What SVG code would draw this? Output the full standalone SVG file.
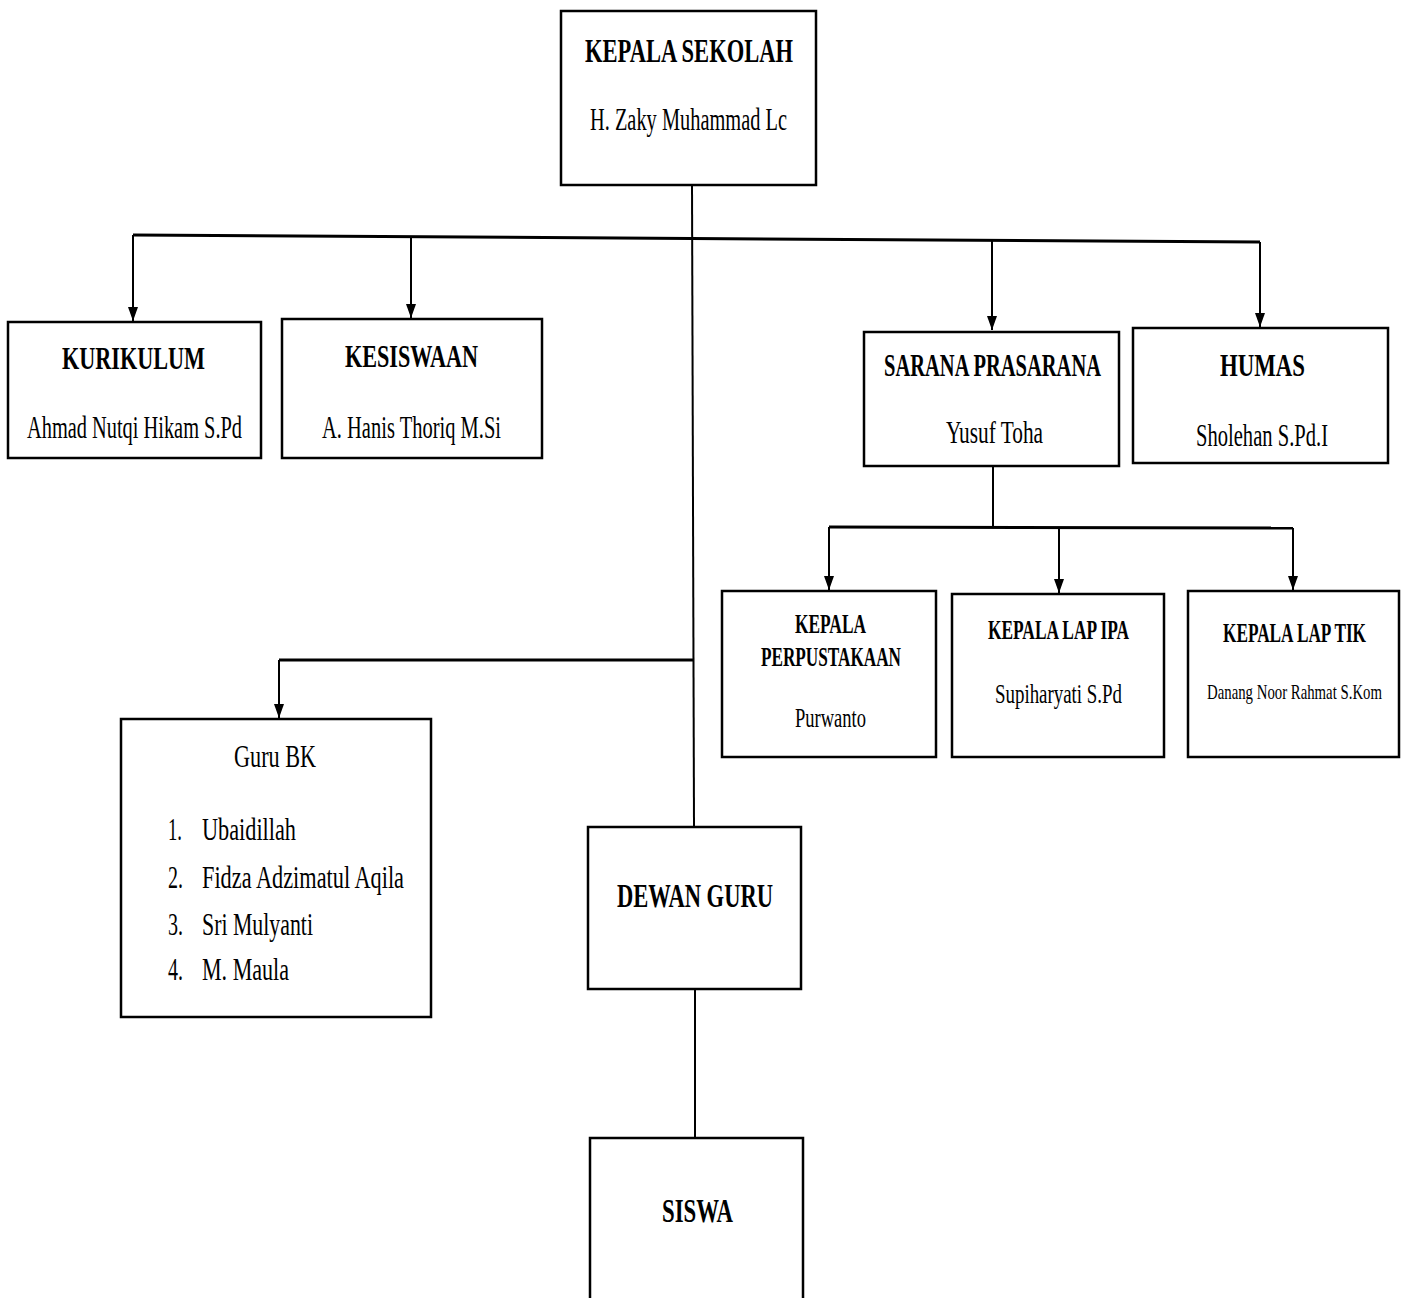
<svg xmlns="http://www.w3.org/2000/svg" width="1405" height="1298" viewBox="0 0 1405 1298">
<style>
.box{fill:#fff;stroke:#000;stroke-width:2.5}
text{font-family:"Liberation Serif","DejaVu Serif",serif;fill:#000}
.b{font-weight:bold}
.ln{fill:none;stroke:#000;stroke-width:2}
.bar{fill:none;stroke:#000;stroke-width:3}
</style>
<defs>
<marker id="ah" markerWidth="14" markerHeight="10" refX="14" refY="5" orient="auto" markerUnits="userSpaceOnUse" viewBox="0 0 14 10">
<path d="M0,0 L14,5 L0,10 Z" fill="#000"/>
</marker>
</defs>
<rect width="1405" height="1298" fill="#fff"/>
<g id="connectors">
<path class="ln" d="M692,184 L694,827"/>
<path class="bar" d="M133,235 L1260,242"/>
<path class="ln" d="M133,235 L133,321" marker-end="url(#ah)"/>
<path class="ln" d="M411,237 L411,318" marker-end="url(#ah)"/>
<path class="ln" d="M992,240 L992,330" marker-end="url(#ah)"/>
<path class="ln" d="M1260,242 L1260,327" marker-end="url(#ah)"/>
<path class="ln" d="M993,466 L993,527"/>
<path class="bar" d="M829,527 L1293,528"/>
<path class="ln" d="M829,527 L829,590" marker-end="url(#ah)"/>
<path class="ln" d="M1059,528 L1059,593" marker-end="url(#ah)"/>
<path class="ln" d="M1293,528 L1293,590" marker-end="url(#ah)"/>
<path class="bar" d="M279,660 L693,660"/>
<path class="ln" d="M279,660 L279,718" marker-end="url(#ah)"/>
<path class="ln" d="M695,989 L695,1138"/>
</g>
<g id="kepala-sekolah">
<rect class="box" x="561" y="11" width="255" height="174"/>
<text class="b" x="585" y="62" font-size="34" textLength="208" lengthAdjust="spacingAndGlyphs">KEPALA SEKOLAH</text>
<text x="590" y="130" font-size="31" textLength="197" lengthAdjust="spacingAndGlyphs">H. Zaky Muhammad Lc</text>
</g>
<g id="kurikulum">
<rect class="box" x="8" y="322" width="253" height="136"/>
<text class="b" x="62" y="369" font-size="31" textLength="143" lengthAdjust="spacingAndGlyphs">KURIKULUM</text>
<text x="27" y="438" font-size="31" textLength="215" lengthAdjust="spacingAndGlyphs">Ahmad Nutqi Hikam S.Pd</text>
</g>
<g id="kesiswaan">
<rect class="box" x="282" y="319" width="260" height="139"/>
<text class="b" x="345" y="367" font-size="31" textLength="133" lengthAdjust="spacingAndGlyphs">KESISWAAN</text>
<text x="322" y="438" font-size="31" textLength="179" lengthAdjust="spacingAndGlyphs">A. Hanis Thoriq M.Si</text>
</g>
<g id="sarana-prasarana">
<rect class="box" x="864" y="332" width="255" height="134"/>
<text class="b" x="884" y="376" font-size="31" textLength="217" lengthAdjust="spacingAndGlyphs">SARANA PRASARANA</text>
<text x="946" y="443" font-size="31" textLength="97" lengthAdjust="spacingAndGlyphs">Yusuf Toha</text>
</g>
<g id="humas">
<rect class="box" x="1133" y="328" width="255" height="135"/>
<text class="b" x="1220" y="376" font-size="31" textLength="85" lengthAdjust="spacingAndGlyphs">HUMAS</text>
<text x="1196" y="446" font-size="31" textLength="132" lengthAdjust="spacingAndGlyphs">Sholehan S.Pd.I</text>
</g>
<g id="kepala-perpustakaan">
<rect class="box" x="722" y="591" width="214" height="166"/>
<text class="b" x="795" y="633" font-size="27" textLength="71" lengthAdjust="spacingAndGlyphs">KEPALA</text>
<text class="b" x="761" y="666" font-size="27" textLength="140" lengthAdjust="spacingAndGlyphs">PERPUSTAKAAN</text>
<text x="795" y="727" font-size="27" textLength="71" lengthAdjust="spacingAndGlyphs">Purwanto</text>
</g>
<g id="kepala-lap-ipa">
<rect class="box" x="952" y="594" width="212" height="163"/>
<text class="b" x="988" y="639" font-size="27" textLength="141" lengthAdjust="spacingAndGlyphs">KEPALA LAP IPA</text>
<text x="995" y="703" font-size="28" textLength="127" lengthAdjust="spacingAndGlyphs">Supiharyati S.Pd</text>
</g>
<g id="kepala-lap-tik">
<rect class="box" x="1188" y="591" width="211" height="166"/>
<text class="b" x="1223" y="642" font-size="27" textLength="143" lengthAdjust="spacingAndGlyphs">KEPALA LAP TIK</text>
<text x="1207" y="699" font-size="22" textLength="175" lengthAdjust="spacingAndGlyphs">Danang Noor Rahmat S.Kom</text>
</g>
<g id="guru-bk">
<rect class="box" x="121" y="719" width="310" height="298"/>
<text x="234" y="767" font-size="32" textLength="82" lengthAdjust="spacingAndGlyphs">Guru BK</text>
<text x="168" y="840" font-size="31" textLength="14" lengthAdjust="spacingAndGlyphs">1.</text>
<text x="202" y="840" font-size="31" textLength="94" lengthAdjust="spacingAndGlyphs">Ubaidillah</text>
<text x="168" y="888" font-size="31" textLength="15" lengthAdjust="spacingAndGlyphs">2.</text>
<text x="202" y="888" font-size="31" textLength="202" lengthAdjust="spacingAndGlyphs">Fidza Adzimatul Aqila</text>
<text x="168" y="935" font-size="31" textLength="15" lengthAdjust="spacingAndGlyphs">3.</text>
<text x="202" y="935" font-size="31" textLength="111" lengthAdjust="spacingAndGlyphs">Sri Mulyanti</text>
<text x="168" y="980" font-size="31" textLength="15" lengthAdjust="spacingAndGlyphs">4.</text>
<text x="202" y="980" font-size="31" textLength="87" lengthAdjust="spacingAndGlyphs">M. Maula</text>
</g>
<g id="dewan-guru">
<rect class="box" x="588" y="827" width="213" height="162"/>
<text class="b" x="617" y="907" font-size="33" textLength="156" lengthAdjust="spacingAndGlyphs">DEWAN GURU</text>
</g>
<g id="siswa">
<rect class="box" x="590" y="1138" width="213" height="200"/>
<text class="b" x="662" y="1222" font-size="34" textLength="71" lengthAdjust="spacingAndGlyphs">SISWA</text>
</g>
</svg>
